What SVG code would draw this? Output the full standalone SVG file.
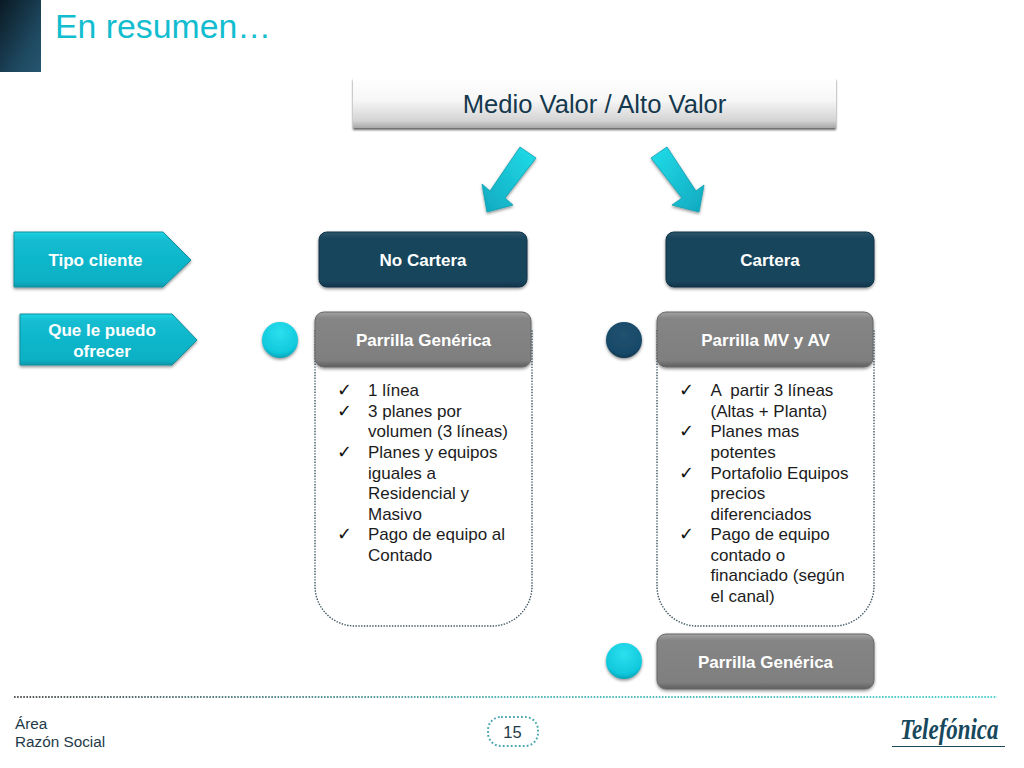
<svg xmlns="http://www.w3.org/2000/svg" width="1024" height="768" viewBox="0 0 1024 768">
<style>
text{font-family:"Liberation Sans",Arial,sans-serif}
.b{font-weight:bold;font-size:17px;fill:#fff;text-anchor:middle}
.t{font-size:17px;fill:#1c1c1c;white-space:pre}
.c{font-family:"DejaVu Sans",sans-serif;font-size:18px;fill:#111}
.p{fill:url(#gTeal);stroke:#0f8fa0;stroke-width:1;filter:url(#sh)}
.n{fill:url(#gNavy);stroke:#0f3347;stroke-width:1;filter:url(#sh)}
.g{fill:url(#gGray);stroke:#666;stroke-width:1;filter:url(#sh)}
.panel{fill:#fff;stroke:#3d5560;stroke-width:1.4;stroke-dasharray:1.4 1.4}
.logo{font-family:"Liberation Serif",serif;font-style:italic;font-weight:bold;font-size:30px;fill:#17485c}
</style>
<defs>
<filter id="sh" x="-10%" y="-15%" width="120%" height="135%"><feDropShadow dx="0" dy="1.500" stdDeviation="1.500" flood-color="#000" flood-opacity=".45"/></filter>
<filter id="sh2" x="-5%" y="-20%" width="110%" height="150%"><feDropShadow dx="0" dy="2" stdDeviation="1.300" flood-color="#000" flood-opacity=".6"/></filter>
<linearGradient id="gHead" x1="0" y1="0" x2="1" y2="1"><stop offset="0" stop-color="#0a1a24"/><stop offset=".7" stop-color="#1f4a62"/><stop offset="1" stop-color="#265570"/></linearGradient>
<linearGradient id="gBox" x1="0" y1="0" x2="0" y2="1"><stop offset="0" stop-color="#fff"/><stop offset=".45" stop-color="#f6f6f6"/><stop offset=".85" stop-color="#d4d4d4"/><stop offset="1" stop-color="#a8a8a8"/></linearGradient>
<linearGradient id="gTeal" x1="0" y1="0" x2="0" y2="1"><stop offset="0" stop-color="#1fd3e2"/><stop offset=".15" stop-color="#12bcd0"/><stop offset=".9" stop-color="#10b0c4"/><stop offset="1" stop-color="#0d98aa"/></linearGradient>
<linearGradient id="gNavy" x1="0" y1="0" x2="0" y2="1"><stop offset="0" stop-color="#2d566c"/><stop offset=".12" stop-color="#18445c"/><stop offset=".9" stop-color="#18445c"/><stop offset="1" stop-color="#10344a"/></linearGradient>
<linearGradient id="gGray" x1="0" y1="0" x2="0" y2="1"><stop offset="0" stop-color="#a2a2a2"/><stop offset=".12" stop-color="#858585"/><stop offset=".88" stop-color="#7f7f7f"/><stop offset="1" stop-color="#5f5f5f"/></linearGradient>
<linearGradient id="gArrL" x1="1" y1="0" x2="0" y2="1"><stop offset="0" stop-color="#22dde9"/><stop offset="1" stop-color="#0fa9bf"/></linearGradient>
<linearGradient id="gArrR" x1="0" y1="0" x2="1" y2="1"><stop offset="0" stop-color="#22dde9"/><stop offset="1" stop-color="#0fa9bf"/></linearGradient>
<radialGradient id="gDotT" cx=".5" cy=".3" r=".75"><stop offset="0" stop-color="#2ce0ee"/><stop offset=".75" stop-color="#10c8dc"/><stop offset="1" stop-color="#0b93a8"/></radialGradient>
<radialGradient id="gDotN" cx=".5" cy=".35" r=".7"><stop offset="0" stop-color="#22526e"/><stop offset=".75" stop-color="#17496a"/><stop offset="1" stop-color="#0d2f45"/></radialGradient>
<linearGradient id="gLine" x1="14" y1="0" x2="997" y2="0" gradientUnits="userSpaceOnUse"><stop offset="0" stop-color="#555"/><stop offset=".5" stop-color="#55b5b5"/><stop offset="1" stop-color="#55d0d0"/></linearGradient>
</defs>
<rect width="1024" height="768" fill="#fff"/>
<rect id="header-square" x="0" y="0" width="41" height="72" fill="url(#gHead)"/>
<text id="title" x="55" y="38" font-size="33.800" fill="#12bdd0">En resumen…</text>

<g id="connectors">
<polygon points="520,147 536,158 505,198 513,205 487,212 482,184 490,191" fill="url(#gArrL)" stroke="#0f9fb3" stroke-width=".8" filter="url(#sh)"/>
<polygon points="667,147 651,158 682,198 672,205 699,212 704,185 696,191" fill="url(#gArrR)" stroke="#0f9fb3" stroke-width=".8" filter="url(#sh)"/>
</g>

<g id="node-medio"><rect x="353" y="78" width="483" height="50" fill="url(#gBox)" filter="url(#sh2)"/>
<text x="594.500" y="113" font-size="25.600" fill="#14384d" text-anchor="middle">Medio Valor / Alto Valor</text></g>

<g id="node-tipo"><polygon class="p" points="14,232 163,232 191,260 163,287 14,287"/><text class="b" x="95.500" y="265.500">Tipo cliente</text></g>
<g id="node-que"><polygon class="p" points="20,314 172,314 197,340 172,365 20,365"/><text class="b" x="102" y="336">Que le puedo</text><text class="b" x="102" y="356.500">ofrecer</text></g>

<g id="node-no-cartera"><rect class="n" x="319" y="232" width="208" height="55" rx="8"/><text class="b" x="423" y="265.500">No Cartera</text></g>
<g id="node-cartera"><rect class="n" x="666" y="232" width="208" height="55" rx="8"/><text class="b" x="770" y="265.500">Cartera</text></g>

<g id="dot-1"><circle cx="280" cy="340" r="18" fill="url(#gDotT)" filter="url(#sh)"/></g>
<g id="dot-2"><circle cx="624" cy="340" r="18" fill="url(#gDotN)" filter="url(#sh)"/></g>
<g id="dot-3"><circle cx="624" cy="661" r="18" fill="url(#gDotT)" filter="url(#sh)"/></g>

<g id="node-panel-1">
<path class="panel" d="M315,330 V586 A40,40 0 0 0 355,626 H492 A40,40 0 0 0 532,586 V330"/>
<rect class="g" x="315" y="312" width="216" height="55" rx="9"/>
<text class="b" x="423.500" y="345.500">Parrilla Genérica</text>
<text class="c" x="337" y="396">✓</text><text class="t" x="368" y="396">1 línea</text>
<text class="c" x="337" y="417">✓</text><text class="t" x="368" y="417">3 planes por</text>
<text class="t" x="368" y="437">volumen (3 líneas)</text>
<text class="c" x="337" y="458">✓</text><text class="t" x="368" y="458">Planes y equipos</text>
<text class="t" x="368" y="478.500">iguales a</text>
<text class="t" x="368" y="499">Residencial y</text>
<text class="t" x="368" y="519.500">Masivo</text>
<text class="c" x="337" y="540">✓</text><text class="t" x="368" y="540">Pago de equipo al</text>
<text class="t" x="368" y="560.500">Contado</text>
</g>

<g id="node-panel-2">
<path class="panel" d="M657,330 V586 A40,40 0 0 0 697,626 H834 A40,40 0 0 0 874,586 V330"/>
<rect class="g" x="657" y="312" width="216" height="55" rx="9"/>
<text class="b" x="765.500" y="345.500">Parrilla MV y AV</text>
<text class="c" x="679" y="396">✓</text><text class="t" x="710.500" y="396">A  partir 3 líneas</text>
<text class="t" x="710.500" y="417">(Altas + Planta)</text>
<text class="c" x="679" y="437">✓</text><text class="t" x="710.500" y="437">Planes mas</text>
<text class="t" x="710.500" y="458">potentes</text>
<text class="c" x="679" y="478.500">✓</text><text class="t" x="710.500" y="478.500">Portafolio Equipos</text>
<text class="t" x="710.500" y="499">precios</text>
<text class="t" x="710.500" y="519.500">diferenciados</text>
<text class="c" x="679" y="540">✓</text><text class="t" x="710.500" y="540">Pago de equipo</text>
<text class="t" x="710.500" y="560.500">contado o</text>
<text class="t" x="710.500" y="581">financiado (según</text>
<text class="t" x="710.500" y="601.500">el canal)</text>
</g>

<g id="node-generica"><rect class="g" x="657" y="634" width="217" height="55" rx="9"/><text class="b" x="765.500" y="668">Parrilla Genérica</text></g>

<path id="footer-line" d="M14,697 H997" stroke="url(#gLine)" stroke-width="2" stroke-dasharray="1.600 1.500" fill="none"/>
<g id="footer-area"><text x="15" y="729" font-size="15.300" fill="#1e3a48">Área</text><text x="15" y="747" font-size="15.300" fill="#1e3a48">Razón Social</text></g>
<g id="page-number"><rect x="488" y="717" width="50" height="29" rx="13" fill="#fff" stroke="#4aa7b2" stroke-width="2" stroke-dasharray="1.800 2.200"/>
<text x="512.500" y="738" font-size="16.500" fill="#1e3a48" text-anchor="middle">15</text></g>
<g id="logo"><text class="logo" transform="translate(900 739) scale(.765 1)">Telefónica</text>
<path d="M892,746.500 H1005" stroke="#1f4a5e" stroke-width="1"/></g>
</svg>
